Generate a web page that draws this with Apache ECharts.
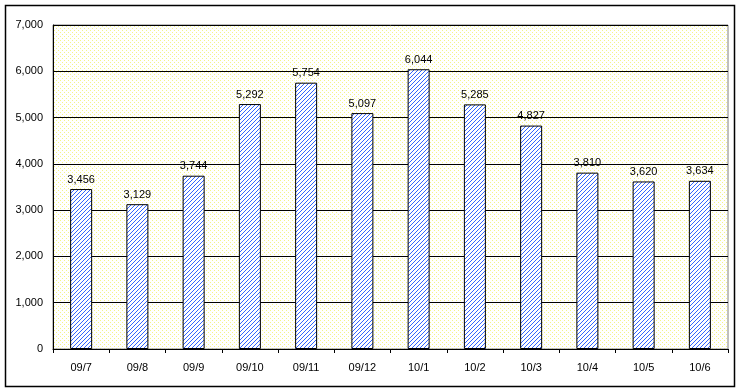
<!DOCTYPE html>
<html><head><meta charset="utf-8">
<script src="https://cdn.jsdelivr.net/npm/echarts@6/dist/echarts.min.js"></script>
<style>html,body{margin:0;padding:0;background:#fff}#c{width:744px;height:392px}</style>
</head><body><div id="c"></div>
<script>
const categories = ['09/7','09/8','09/9','09/10','09/11','09/12','10/1','10/2','10/3','10/4','10/5','10/6'];
const values = [3456,3129,3744,5292,5754,5097,6044,5285,4827,3810,3620,3634];
const yTicks = [0,1000,2000,3000,4000,5000,6000,7000];

function hatch(){
  const n=4;
  const c=document.createElement('canvas');c.width=n;c.height=n;
  const g=c.getContext('2d');
  const img=g.createImageData(n,n);
  for(let y=0;y<n;y++)for(let x=0;x<n;x++){
    const k=(y*n+x)*4;
    const on=((x+y)%n)===n-1;
    img.data[k]=on?0x33:255;img.data[k+1]=on?0x66:255;img.data[k+2]=255;img.data[k+3]=255;
  }
  g.putImageData(img,0,0);
  return c;
}
function dots(){
  const n=4;
  const c=document.createElement('canvas');c.width=n;c.height=n;
  const g=c.getContext('2d');
  const img=g.createImageData(n,n);
  for(let y=0;y<n;y++)for(let x=0;x<n;x++){
    const k=(y*n+x)*4;
    const on=(x===0&&y===0)||(x===2&&y===2);
    img.data[k]=on?0xf4:255;img.data[k+1]=on?0xf4:255;img.data[k+2]=on?0x88:255;img.data[k+3]=255;
  }
  g.putImageData(img,0,0);
  return c;
}
const chart=echarts.init(document.getElementById('c'),null,{renderer:'canvas'});
chart.setOption({
  animation:false,
  graphic:[{type:'rect',shape:{x:5.5,y:5.5,width:729,height:381},style:{fill:'none',stroke:'#000',lineWidth:1.5},z:-1}],
  grid:{left:53,right:16,top:25,bottom:43,show:true,backgroundColor:{image:dots(),repeat:'repeat'},borderColor:'#808080',borderWidth:1},
  xAxis:{type:'category',data:categories,
    axisLine:{lineStyle:{color:'#000',width:1}},
    axisTick:{show:true,length:4,lineStyle:{color:'#000'}},
    axisLabel:{color:'#000',fontSize:11,fontFamily:'Liberation Sans, Arial',margin:13}},
  yAxis:{type:'value',min:0,max:7000,interval:1000,
    axisLine:{show:true,lineStyle:{color:'#000'}},
    axisTick:{show:false},
    splitLine:{lineStyle:{color:'#000',width:1}},
    axisLabel:{color:'#000',fontSize:11,fontFamily:'Liberation Sans, Arial',margin:10,
      formatter:v=>yTicks.includes(v)?v.toLocaleString('en-US'):''}},
  series:[{type:'bar',data:values,barWidth:22,
    itemStyle:{color:{image:hatch(),repeat:'repeat'},borderColor:'#000',borderWidth:1},
    label:{show:true,position:'top',distance:4,color:'#000',fontSize:11,fontFamily:'Liberation Sans, Arial',
      formatter:p=>p.value.toLocaleString('en-US')}}]
});
</script></body></html>
